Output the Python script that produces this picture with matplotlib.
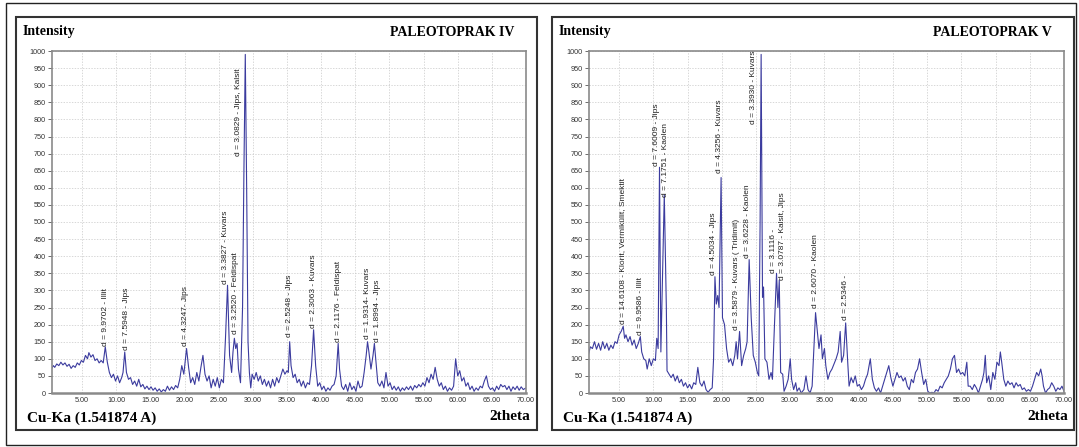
"""XRD patterns of two paleosol samples (PALEOTOPRAK IV and V), side by side."""

import numpy as np
import matplotlib.pyplot as plt
from matplotlib.patches import Rectangle

# Scan values: (2theta, intensity)
iv_scan = [
    (0.5, 70), (0.8, 80), (1.0, 75), (1.3, 85), (1.6, 80), (1.9, 90), (2.2, 82), (2.5, 88),
    (2.8, 78), (3.1, 84), (3.4, 72), (3.7, 80), (4.0, 75), (4.3, 88), (4.6, 82), (4.9, 95),
    (5.2, 90), (5.5, 110), (5.8, 100), (6.0, 118), (6.3, 105), (6.6, 112), (6.9, 95), (7.2, 100),
    (7.5, 88), (7.8, 95), (8.1, 88), (8.4, 135), (8.7, 90), (9.0, 60), (9.3, 45), (9.6, 55),
    (9.9, 35), (10.2, 50), (10.5, 30), (10.8, 45), (11.0, 60), (11.25, 120), (11.5, 60), (11.8, 40),
    (12.1, 45), (12.4, 25), (12.7, 35), (13.0, 20), (13.3, 40), (13.6, 18), (13.9, 25), (14.2, 12),
    (14.5, 20), (14.8, 10), (15.1, 18), (15.4, 8), (15.7, 15), (16.0, 5), (16.3, 12), (16.6, 3),
    (16.9, 10), (17.2, 5), (17.5, 20), (17.8, 8), (18.1, 18), (18.4, 10), (18.7, 22), (19.0, 15),
    (19.3, 40), (19.6, 80), (19.9, 55), (20.3, 130), (20.6, 75), (20.9, 30), (21.2, 45), (21.5, 25),
    (21.8, 60), (22.1, 35), (22.4, 75), (22.7, 110), (23.0, 55), (23.3, 35), (23.6, 50), (23.9, 15),
    (24.2, 40), (24.5, 20), (24.8, 45), (25.1, 15), (25.4, 40), (25.7, 30), (26.0, 160), (26.3, 315),
    (26.6, 110), (26.9, 60), (27.1, 120), (27.3, 160), (27.5, 130), (27.7, 145), (27.9, 70), (28.2, 30),
    (28.5, 250), (28.7, 650), (28.9, 990), (29.1, 600), (29.3, 150), (29.5, 60), (29.7, 15), (29.9, 55),
    (30.2, 40), (30.5, 60), (30.8, 35), (31.1, 50), (31.4, 25), (31.7, 40), (32.0, 20), (32.3, 35),
    (32.6, 15), (32.9, 40), (33.2, 20), (33.5, 45), (33.8, 30), (34.1, 50), (34.4, 70), (34.7, 55),
    (35.0, 65), (35.2, 60), (35.4, 150), (35.6, 80), (35.9, 45), (36.2, 55), (36.5, 30), (36.8, 40),
    (37.1, 20), (37.4, 35), (37.7, 15), (38.0, 30), (38.3, 25), (38.6, 80), (38.9, 185), (39.2, 80),
    (39.5, 20), (39.8, 30), (40.1, 10), (40.4, 20), (40.7, 5), (41.0, 15), (41.3, 8), (41.6, 20),
    (41.9, 25), (42.2, 50), (42.5, 145), (42.7, 70), (43.0, 20), (43.3, 10), (43.6, 25), (43.9, 5),
    (44.2, 30), (44.5, 10), (44.8, 20), (45.1, 5), (45.4, 35), (45.7, 15), (46.0, 20), (46.3, 60),
    (46.6, 110), (46.8, 150), (47.0, 120), (47.3, 70), (47.6, 110), (47.8, 145), (48.0, 100), (48.3, 30),
    (48.6, 20), (48.9, 35), (49.2, 15), (49.5, 60), (49.8, 20), (50.1, 30), (50.4, 10), (50.7, 20),
    (51.0, 8), (51.3, 18), (51.6, 5), (51.9, 15), (52.2, 8), (52.5, 18), (52.8, 10), (53.1, 20),
    (53.4, 8), (53.7, 22), (54.0, 15), (54.3, 25), (54.6, 18), (54.9, 30), (55.2, 20), (55.5, 45),
    (55.8, 30), (56.1, 55), (56.4, 40), (56.7, 75), (57.0, 40), (57.3, 20), (57.6, 30), (57.9, 10),
    (58.2, 20), (58.5, 5), (58.8, 15), (59.1, 8), (59.4, 20), (59.7, 100), (60.0, 50), (60.3, 65),
    (60.6, 35), (60.9, 45), (61.2, 20), (61.5, 30), (61.8, 10), (62.1, 20), (62.4, 5), (62.7, 15),
    (63.0, 8), (63.3, 20), (63.6, 15), (63.9, 35), (64.2, 50), (64.5, 20), (64.8, 10), (65.1, 15),
    (65.4, 5), (65.7, 20), (66.0, 10), (66.3, 25), (66.6, 18), (66.9, 22), (67.2, 10), (67.5, 20),
    (67.8, 5), (68.1, 18), (68.4, 10), (68.7, 20), (69.0, 8), (69.3, 18), (69.6, 10), (70.0, 15),
]

v_scan = [
    (0.5, 110), (0.8, 135), (1.1, 130), (1.4, 150), (1.7, 128), (2.0, 145), (2.3, 125), (2.6, 150),
    (2.9, 130), (3.2, 145), (3.5, 125), (3.8, 140), (4.1, 130), (4.4, 150), (4.7, 145), (5.0, 170),
    (5.3, 180), (5.6, 195), (5.8, 160), (6.0, 170), (6.3, 150), (6.6, 165), (6.9, 140), (7.2, 155),
    (7.5, 130), (7.8, 145), (8.1, 165), (8.3, 120), (8.6, 100), (8.9, 95), (9.1, 70), (9.4, 100),
    (9.7, 80), (10.0, 100), (10.3, 95), (10.5, 160), (10.7, 130), (10.9, 660), (11.1, 120), (11.3, 300),
    (11.6, 580), (11.9, 250), (12.0, 65), (12.3, 55), (12.6, 45), (12.9, 55), (13.2, 35), (13.5, 50),
    (13.8, 30), (14.1, 40), (14.4, 20), (14.7, 30), (15.0, 15), (15.3, 25), (15.6, 12), (15.9, 30),
    (16.2, 25), (16.5, 75), (16.8, 30), (17.1, 20), (17.4, 35), (17.7, 10), (18.0, 2), (18.3, 10),
    (18.6, 15), (18.8, 100), (19.0, 340), (19.2, 260), (19.4, 285), (19.6, 250), (19.9, 630), (20.1, 220),
    (20.4, 200), (20.7, 130), (21.0, 90), (21.3, 100), (21.6, 80), (21.9, 110), (22.1, 150), (22.3, 100),
    (22.6, 180), (22.9, 80), (23.2, 110), (23.5, 130), (23.7, 150), (24.0, 390), (24.3, 220), (24.6, 110),
    (24.9, 90), (25.2, 60), (25.4, 50), (25.6, 500), (25.75, 990), (25.95, 280), (26.1, 310), (26.3, 100),
    (26.6, 90), (26.9, 40), (27.2, 60), (27.4, 40), (27.7, 200), (28.0, 350), (28.2, 250), (28.4, 330),
    (28.6, 60), (28.9, 55), (29.1, 5), (29.4, 20), (29.7, 40), (30.0, 100), (30.2, 40), (30.5, 10),
    (30.8, 30), (31.0, 5), (31.3, 15), (31.6, 0), (32.0, 10), (32.3, 50), (32.6, 10), (32.9, 0),
    (33.2, 20), (33.5, 150), (33.7, 235), (34.0, 170), (34.2, 130), (34.5, 170), (34.7, 100), (35.0, 130),
    (35.2, 80), (35.5, 40), (35.8, 60), (36.1, 70), (36.4, 85), (36.7, 100), (37.0, 120), (37.3, 180),
    (37.5, 90), (37.8, 110), (38.1, 205), (38.4, 90), (38.6, 20), (38.9, 45), (39.2, 30), (39.5, 50),
    (39.8, 20), (40.1, 25), (40.4, 10), (40.7, 20), (41.0, 40), (41.3, 55), (41.7, 100), (42.0, 40),
    (42.3, 15), (42.6, 5), (42.9, 15), (43.2, 0), (43.5, 20), (43.8, 40), (44.1, 60), (44.4, 80),
    (44.7, 45), (45.0, 20), (45.3, 40), (45.6, 60), (45.9, 45), (46.2, 50), (46.5, 35), (46.8, 45),
    (47.1, 20), (47.4, 10), (47.7, 40), (48.0, 30), (48.3, 60), (48.6, 70), (48.9, 100), (49.2, 60),
    (49.5, 25), (49.8, 40), (50.1, 5), (50.4, 0), (50.7, 2), (51.0, 0), (51.3, 10), (51.6, 5),
    (51.9, 20), (52.2, 15), (52.5, 30), (52.8, 40), (53.1, 50), (53.4, 70), (53.7, 100), (54.0, 110),
    (54.3, 60), (54.6, 70), (54.9, 55), (55.2, 60), (55.5, 50), (55.8, 90), (56.0, 20), (56.3, 20),
    (56.6, 10), (56.9, 25), (57.2, 15), (57.5, 0), (57.8, 20), (58.1, 40), (58.3, 60), (58.5, 110),
    (58.7, 30), (59.0, 50), (59.3, 10), (59.6, 60), (59.9, 40), (60.2, 90), (60.5, 80), (60.7, 120),
    (60.9, 90), (61.2, 40), (61.5, 20), (61.8, 35), (62.1, 25), (62.4, 30), (62.7, 15), (63.0, 30),
    (63.3, 20), (63.6, 25), (63.9, 10), (64.2, 15), (64.5, 5), (64.8, 10), (65.1, 5), (65.4, 20),
    (65.7, 40), (66.0, 60), (66.3, 50), (66.6, 70), (66.8, 50), (67.0, 20), (67.3, 0), (67.6, 10),
    (67.9, 15), (68.2, 30), (68.5, 20), (68.8, 5), (69.1, 15), (69.4, 10), (69.7, 20), (70.0, 5),
]

# Peak labels: (2theta, intensity at label foot, text)
iv_peaks = [
    (8.49, 136, 'd = 9.9702 - Illit'),
    (11.47, 126, 'd = 7.5948 - Jips'),
    (20.17, 136, 'd = 4.3247- Jips'),
    (25.93, 319, 'd = 3.3827 - Kuvars'),
    (27.45, 173, 'd = 3.2520 - Feldispat'),
    (27.85, 693, 'd = 3.0829 - Jips, Kalsit'),
    (35.33, 165, 'd = 2.5248 - Jips'),
    (38.82, 190, 'd = 2.3063 - Kuvars'),
    (42.51, 148, 'd = 2.1176 - Feldispat'),
    (46.81, 158, 'd = 1.9314- Kuvars'),
    (48.20, 148, 'd = 1.8994 - Jips'),
]

v_peaks = [
    (5.50, 202, 'd = 14.6108 - Klorit, Vermikülit, Smektit'),
    (8.12, 170, 'd = 9.9586 - Illit'),
    (10.44, 663, 'd = 7.6009 - Jips'),
    (11.75, 574, 'd = 7.1751 - Kaolen'),
    (18.85, 345, 'd = 4.5034 - Jips'),
    (19.71, 642, 'd = 4.3256 - Kuvars'),
    (22.13, 185, 'd = 3.5879 - Kuvars ( Tridimit)'),
    (23.74, 394, 'd = 3.6228 - Kaolen'),
    (24.65, 788, 'd = 3.3930 - Kuvars'),
    (27.57, 352, 'd = 3.1116 -'),
    (28.88, 329, 'd = 3.0787 - Kalsit, Jips'),
    (33.67, 248, 'd = 2.6070 - Kaolen'),
    (38.10, 214, 'd = 2.5346 -'),
]

sample_names = ['PALEOTOPRAK IV', 'PALEOTOPRAK V']
x_ticks = [5, 10, 15, 20, 25, 30, 35, 40, 45, 50, 55, 60, 65, 70]
y_ticks = list(range(0, 1001, 50))

LINE_COLOR = '#3b3b9e'
SERIF = 'Liberation Serif'
SANS = 'Liberation Sans'

W, H = 1079, 447
fig = plt.figure(figsize=(W / 100, H / 100), dpi=100)


def px_box(x0, y0, x1, y1):
    """Pixel box (top-left origin) -> figure fraction [left, bottom, width, height]."""
    return [x0 / W, 1 - y1 / H, (x1 - x0) / W, (y1 - y0) / H]


# outer frame of the whole figure
fig.patches.append(Rectangle((6 / W, 2 / H), (W - 9) / W, (H - 5) / H, transform=fig.transFigure,
                             fill=False, edgecolor='#222222', linewidth=1.0))

panels = [
    dict(scan=iv_scan, peaks=iv_peaks, name=sample_names[0], frame=(16, 17, 537, 430), axes=(52, 51, 526, 393)),
    dict(scan=v_scan, peaks=v_peaks, name=sample_names[1], frame=(552, 17, 1074, 430), axes=(589, 51, 1064, 393)),
]

for p in panels:
    fx0, fy0, fx1, fy1 = p['frame']
    l, b, w, h = px_box(fx0, fy0, fx1, fy1)
    fig.patches.append(Rectangle((l, b), w, h, transform=fig.transFigure,
                                 fill=False, edgecolor='#333333', linewidth=1.5))

    ax = fig.add_axes(px_box(*p['axes']))
    two_theta = np.array([s[0] for s in p['scan']])
    counts = np.array([s[1] for s in p['scan']])
    ax.plot(two_theta, counts, color=LINE_COLOR, linewidth=0.8)

    for x, y, label in p['peaks']:
        ax.text(x, y, label, rotation=90, ha='center', va='bottom',
                fontsize=6, family=SANS, color='#222222')

    ax.set_xlim(0.6, 70.0)
    ax.set_ylim(0, 1000)
    ax.set_xticks(x_ticks)
    ax.set_xticklabels([f'{t:.2f}' for t in x_ticks])
    ax.set_yticks(y_ticks)
    ax.set_yticklabels([str(t) for t in y_ticks])
    ax.tick_params(axis='both', labelsize=5.2, colors='#333333', labelcolor='#333333')
    ax.tick_params(axis='x', length=0, pad=3)
    ax.tick_params(axis='y', length=3, width=0.6, pad=1.5, color='#555555')
    for lbl in ax.get_xticklabels() + ax.get_yticklabels():
        lbl.set_family(SANS)
    ax.grid(True, color='#c8c8c8', linestyle='--', linewidth=0.5, dashes=(2, 2))
    for side in ax.spines.values():
        side.set_color('#8a8a8a')
        side.set_linewidth(1.2)
    ax.spines['bottom'].set_linewidth(1.8)

    # panel captions
    fig.text((fx0 + 7) / W, 1 - 32 / H, 'Intensity', family=SERIF, fontweight='bold',
             fontsize=10, va='center', ha='left')
    fig.text((p['axes'][2] - 12) / W, 1 - 32 / H, p['name'], family=SERIF, fontweight='bold',
             fontsize=10, va='center', ha='right')
    fig.text((fx0 + 11) / W, 1 - 418 / H, 'Cu-Ka (1.541874 A)', family=SERIF, fontweight='bold',
             fontsize=11, va='center', ha='left')
    fig.text((p['axes'][2] + 4) / W, 1 - 416 / H, '2theta', family=SERIF, fontweight='bold',
             fontsize=11, va='center', ha='right')

plt.savefig('out.png', dpi=100)
